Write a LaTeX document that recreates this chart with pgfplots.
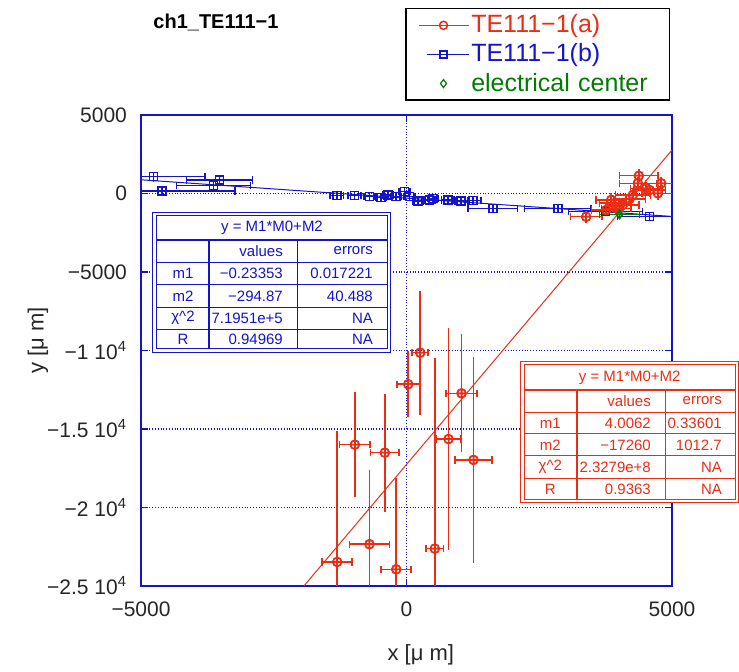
\documentclass[border=0pt]{standalone}
\usepackage{pgfplots}
\pgfplotsset{compat=1.18}
\usepackage{pgfplotstable}
\usepackage{fontspec}
\setmainfont{Liberation Sans}
\usetikzlibrary{plotmarks}
\definecolor{myred}{RGB}{235,45,20}
\definecolor{myblue}{RGB}{20,20,205}
\definecolor{mygreen}{RGB}{0,125,0}

\pgfdeclareplotmark{boxplus}{%
  \pgfpathrectangle{\pgfpoint{-\pgfplotmarksize}{-\pgfplotmarksize}}{\pgfpoint{2\pgfplotmarksize}{2\pgfplotmarksize}}%
  \pgfpathmoveto{\pgfpoint{-\pgfplotmarksize}{0pt}}\pgfpathlineto{\pgfpoint{\pgfplotmarksize}{0pt}}%
  \pgfpathmoveto{\pgfpoint{0pt}{-\pgfplotmarksize}}\pgfpathlineto{\pgfpoint{0pt}{\pgfplotmarksize}}%
  \pgfusepathqstroke}

\pgfplotsset{
  legA/.style={legend image code/.code={\draw[mark repeat=2, mark phase=2, ##1] plot coordinates {(0pt,0pt) (12.5pt,0pt) (25pt,0pt)};}},
  legB/.style={legend image code/.code={\draw[mark repeat=2, mark phase=2, ##1] plot coordinates {(4pt,0pt) (12.5pt,0pt) (25pt,0pt)};}},
  xbars/.style={forget plot, only marks,
    /pgfplots/error bars/x dir=both, /pgfplots/error bars/x explicit, /pgfplots/error bars/error mark=|,
    /pgfplots/error bars/error bar style={#1, line width=0.75pt},
    /pgfplots/error bars/error mark options={#1, mark size=1.8pt, line width=0.75pt}},
  ybars/.style={forget plot, only marks,
    /pgfplots/error bars/y dir=both, /pgfplots/error bars/y explicit, /pgfplots/error bars/error mark=-,
    /pgfplots/error bars/error bar style={#1, line width=0.75pt},
    /pgfplots/error bars/error mark options={#1, mark size=1.8pt, line width=0.75pt}},
}

% TE111-1(a)
\pgfplotstableread{
x y ex ey
258 -10140 150 3715
32 -12150 213 1860
-973 -16000 290 3130
-408 -16510 267 3525
1036 -12730 295 3535
791 -15640 232 6826
1262 -16970 351 6327
533 -22620 163 11900
-697 -22340 380 4520
-1305 -23470 282 8090
-194 -23940 282 5580
4375 1130 364 200
4797 650 300 200
4357 650 350 200
4514 330 300 200
4580 220 300 200
4733 10 300 200
4262 -100 330 200
4200 -350 300 200
3855 -410 282 200
3930 -600 300 200
4074 -730 300 200
3949 -945 280 150
3760 -1050 280 150
3384 -1480 300 150
}\redA

% TE111-1(b)
\pgfplotstableread{
x y ex ey
-4765 1070 974 80
-4601 160 1370 80
-3522 860 620 80
-3635 500 700 80
-1312 -140 130 60
-980 -140 120 60
-697 -200 100 60
-476 -270 100 60
-352 -100 100 60
-194 -200 100 60
-38 115 100 60
56 -200 100 60
213 -480 100 60
433 -410 100 60
496 -310 100 60
778 -415 120 60
1030 -480 120 60
1249 -460 150 60
1625 -945 465 60
2850 -945 625 60
3748 -1150 700 60
4576 -1480 600 60
}\blueB

% electrical center
\pgfplotstableread{
x y ex ey
4011 -1330 376 60
}\greenC

\begin{document}
\begin{tikzpicture}
\begin{scope}[x=0.5pt,y=-0.5pt,shift={(-141,-586)}]
\path[use as bounding box] (0,0) rectangle (739,668);
\end{scope}
\begin{axis}[
  scale only axis, width=265.5pt, height=235.5pt,
  xmin=-5000, xmax=5000, ymin=-25000, ymax=5000,
  scaled ticks=false,
  axis line style={myblue, line width=0.75pt},
  xtick={-5000,0,5000}, xticklabels={−5000,0,5000},
  ytick={5000,0,-5000,-10000,-15000,-20000,-25000},
  yticklabels={5000,0,−5000,{−1 10\textsuperscript{4}},{−1.5 10\textsuperscript{4}},{−2 10\textsuperscript{4}},{−2.5 10\textsuperscript{4}}},
  tick style={myblue, line width=0.6pt}, tick align=inside, major tick length=3.5pt,
  grid=major, major grid style={myblue, densely dotted, line width=0.6pt},
  ticklabel style={font=\fontsize{10.5}{12}\selectfont, text=black!85},
  yticklabel style={xshift=-3.5pt},
  xticklabel style={yshift=-4.5pt},
  xlabel={x [μ m]}, ylabel={y [μ m]},
  label style={font=\fontsize{11}{13}\selectfont, text=black!85},
  xlabel style={at={(axis description cs:0.527,-0.1465)}, anchor=center},
  ylabel style={at={(axis description cs:-0.194,0.522)}, anchor=center},
  legend style={at={(axis description cs:0.4972,1.2272)}, anchor=north west,
    draw=black, line width=0.75pt, fill=white,
    font=\fontsize{12.5}{14}\selectfont, row sep=2pt, inner xsep=6pt, inner ysep=2pt,
    nodes={inner sep=1pt, text width=92pt, align=left}},
  legend cell align=left,
]
\addlegendimage{myred, line width=0.75pt, mark=o, mark size=2pt, legA}
\addlegendentry[text=myred]{TE111−1(a)}
\addlegendimage{myblue, line width=0.75pt, mark=square, mark size=1.8pt, legB}
\addlegendentry[text=myblue]{TE111−1(b)}
\addlegendimage{mygreen, only marks, line width=0.6pt, mark=diamond, mark size=2pt, legA}
\addlegendentry[text=mygreen]{electrical center}

% blue series
\addplot[xbars=myblue, myblue, mark=boxplus, mark size=2pt, line width=0.75pt]
  table[x=x, y=y, x error=ex] {\blueB};
\addplot[ybars=myblue, myblue, mark=boxplus, mark size=2pt, line width=0.75pt]
  table[x=x, y=y, y error=ey] {\blueB};
\addplot[forget plot, myblue, line width=0.5pt] coordinates {(-5000,873) (5000,-1462)};

% red series
\addplot[xbars=myred, myred, mark=oplus, mark size=2.2pt, line width=0.75pt]
  table[x=x, y=y, x error=ex] {\redA};
\addplot[ybars=myred, myred, mark=oplus, mark size=2.2pt, line width=0.75pt]
  table[x=x, y=y, y error=ey] {\redA};
\addplot[forget plot, myred, line width=0.5pt] coordinates {(-1932,-25000) (5000,2771)};

% electrical center
\addplot[xbars=mygreen, mygreen, mark=diamond, mark size=2pt, line width=0.75pt]
  table[x=x, y=y, x error=ex] {\greenC};
\addplot[ybars=mygreen, mygreen, mark=diamond, mark size=2pt, line width=0.75pt]
  table[x=x, y=y, y error=ey] {\greenC};
\end{axis}

\begin{scope}[x=0.5pt,y=-0.5pt,shift={(-141,-586)}]
% title
\node[font=\bfseries\fontsize{10}{12}\selectfont, text=black] at (216,22) {ch1\_TE111−1};
% blue table
\begin{scope}[myblue, line width=0.5pt, font=\fontsize{7.5}{9}\selectfont]
\fill[white] (152.7,212.3) rectangle (390.7,352.3);
\draw (152.7,212.3) rectangle (390.7,352.3);
\draw (156.7,215.7) rectangle (387.3,349);
\draw[line width=1pt] (156.7,240) -- (387.3,240);
\foreach \yy in {262.3,285,307.3,329.3} \draw (156.7,\yy) -- (387.3,\yy);
\draw[line width=1pt] (209.3,240) -- (209.3,349);
\draw (297.3,240) -- (297.3,349);
\node[text=myblue] at (272,228) {y = M1*M0+M2};
\node[text=myblue, anchor=east] at (290,251) {values};
\node[text=myblue, anchor=east] at (380,251) {errors};
\node[text=myblue] at (183,273.6) {m1};
\node[text=myblue] at (183,296) {m2};
\node[text=myblue] at (183,318.3) {χ\^{}2};
\node[text=myblue] at (183,339) {R};
\node[text=myblue, anchor=east] at (290,273.6) {−0.23353};
\node[text=myblue, anchor=east] at (380,273.6) {0.017221};
\node[text=myblue, anchor=east] at (290,296) {−294.87};
\node[text=myblue, anchor=east] at (380,296) {40.488};
\node[text=myblue, anchor=east] at (290,318.3) {7.1951e+5};
\node[text=myblue, anchor=east] at (380,318.3) {NA};
\node[text=myblue, anchor=east] at (290,339) {0.94969};
\node[text=myblue, anchor=east] at (380,339) {NA};
\end{scope}
% red table
\begin{scope}[myred, line width=0.5pt, font=\fontsize{7.5}{9}\selectfont]
\fill[white] (520.7,361.7) rectangle (738,502.7);
\draw (520.7,361.7) rectangle (738,502.7);
\draw (524,365) rectangle (735.3,500);
\draw[line width=1pt] (524,390) -- (735.3,390);
\foreach \yy in {412.3,434,456,478.3} \draw (524,\yy) -- (735.3,\yy);
\draw[line width=1pt] (576.7,390) -- (576.7,500);
\draw (665.3,390) -- (665.3,500);
\node[text=myred] at (629.7,377.5) {y = M1*M0+M2};
\node[text=myred, anchor=east] at (658,401) {values};
\node[text=myred, anchor=east] at (729,401) {errors};
\node[text=myred] at (550.3,423) {m1};
\node[text=myred] at (550.3,445) {m2};
\node[text=myred] at (550.3,467) {χ\^{}2};
\node[text=myred] at (550.3,489) {R};
\node[text=myred, anchor=east] at (658,423) {4.0062};
\node[text=myred, anchor=east] at (729,423) {0.33601};
\node[text=myred, anchor=east] at (658,445) {−17260};
\node[text=myred, anchor=east] at (729,445) {1012.7};
\node[text=myred, anchor=east] at (658,467) {2.3279e+8};
\node[text=myred, anchor=east] at (729,467) {NA};
\node[text=myred, anchor=east] at (658,489) {0.9363};
\node[text=myred, anchor=east] at (729,489) {NA};
\end{scope}
\end{scope}
\end{tikzpicture}
\end{document}
